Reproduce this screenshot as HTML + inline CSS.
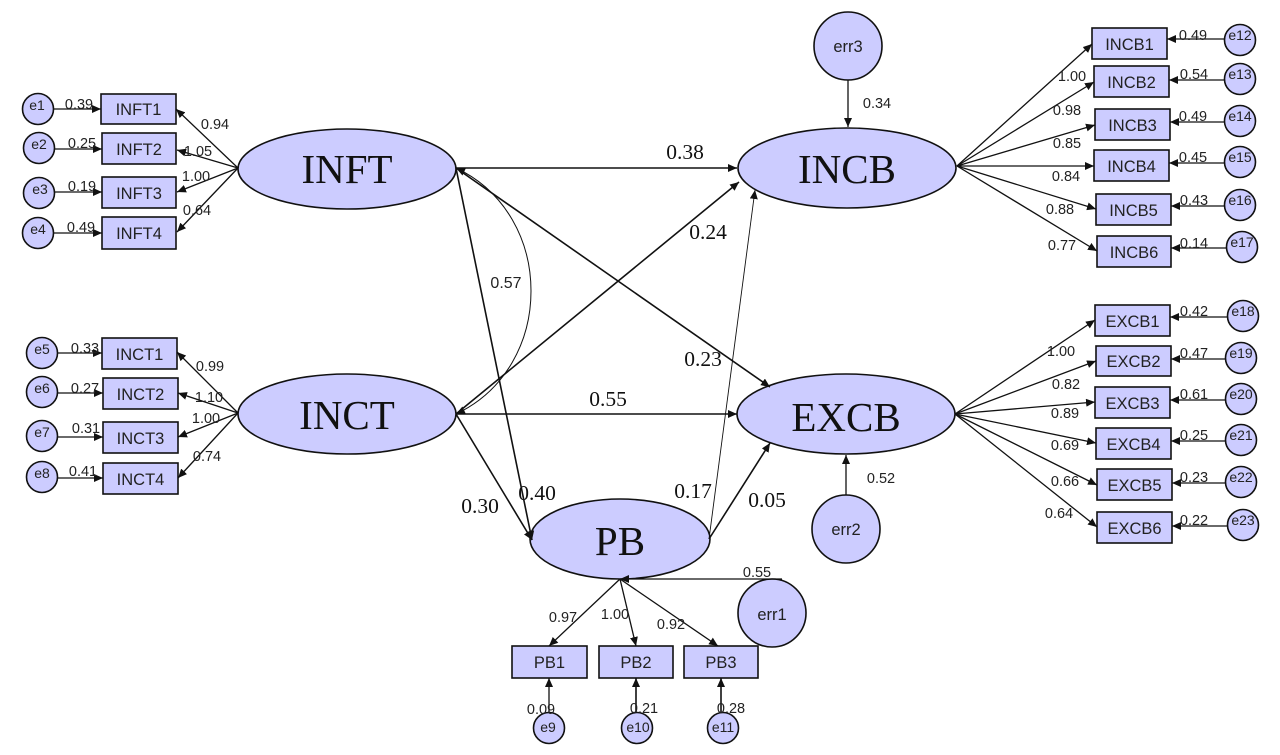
<!DOCTYPE html>
<html><head><meta charset="utf-8">
<style>
html,body{margin:0;padding:0;background:#fff}
svg{display:block}
.n{fill:#ccccff;stroke:#111;stroke-width:1.6}
.t{font:16.5px "Liberation Sans",sans-serif;fill:#222;text-anchor:middle}
.e{font:14px "Liberation Sans",sans-serif;fill:#222;text-anchor:middle}
.l{font:14.5px "Liberation Sans",sans-serif;fill:#222;text-anchor:middle}
.s{font:21.500px "Liberation Serif",serif;fill:#111;text-anchor:middle}
.b{font:41px "Liberation Serif",serif;fill:#111;text-anchor:middle}
.a line,.a path{stroke:#111;stroke-width:1.3;fill:none;marker-end:url(#m)}
.a .h{stroke-width:1.6}
.a .f{stroke-width:.9}
</style></head><body>
<svg width="1280" height="755" viewBox="0 0 1280 755" xmlns="http://www.w3.org/2000/svg">
<defs><marker id="m" markerUnits="userSpaceOnUse" markerWidth="10" markerHeight="8" refX="9" refY="4" orient="auto"><path d="M0 0L9 4L0 8z" fill="#111"/></marker>
<marker id="ms" markerUnits="userSpaceOnUse" markerWidth="10" markerHeight="8" refX="0" refY="4" orient="auto"><path d="M9 0L0 4L9 8z" fill="#111"/></marker></defs>

<g class="n">
<ellipse cx="347" cy="169" rx="109" ry="40"/><ellipse cx="347" cy="414" rx="109" ry="40"/>
<ellipse cx="847" cy="168" rx="109" ry="40"/><ellipse cx="846" cy="414" rx="109" ry="40"/>
<ellipse cx="620" cy="539" rx="90" ry="40"/>
<circle cx="848" cy="46" r="34"/><circle cx="846" cy="529" r="34"/><circle cx="772" cy="613" r="34"/>
<rect x="101" y="94" width="75" height="30"/><rect x="102" y="133" width="74" height="31"/><rect x="102" y="177" width="74" height="31"/><rect x="102" y="217" width="74" height="32"/>
<rect x="102" y="338" width="75" height="31"/><rect x="103" y="378" width="75" height="31"/><rect x="103" y="422" width="75" height="31"/><rect x="103" y="463" width="75" height="31"/>
<rect x="1092" y="28" width="75" height="31"/><rect x="1094" y="66" width="75" height="31"/><rect x="1095" y="109" width="75" height="31"/><rect x="1094" y="150" width="75" height="31"/><rect x="1096" y="194" width="75" height="31"/><rect x="1097" y="236" width="74" height="31"/>
<rect x="1095" y="305" width="75" height="31"/><rect x="1096" y="346" width="75" height="30"/><rect x="1095" y="387" width="75" height="31"/><rect x="1096" y="428" width="75" height="31"/><rect x="1097" y="469" width="75" height="31"/><rect x="1097" y="512" width="75" height="31"/>
<rect x="512" y="646" width="75" height="32"/><rect x="599" y="646" width="74" height="32"/><rect x="684" y="646" width="74" height="32"/>
<circle cx="38" cy="109" r="15.5"/><circle cx="39" cy="148" r="15.5"/><circle cx="39" cy="193" r="15.5"/><circle cx="38" cy="233" r="15.5"/>
<circle cx="42" cy="353" r="15.5"/><circle cx="42" cy="392" r="15.5"/><circle cx="42" cy="436" r="15.5"/><circle cx="42" cy="477" r="15.5"/>
<circle cx="549" cy="728" r="15.5"/><circle cx="637" cy="728" r="15.5"/><circle cx="723" cy="728" r="15.5"/>
<circle cx="1240" cy="40" r="15.5"/><circle cx="1240" cy="79" r="15.5"/><circle cx="1240" cy="121" r="15.5"/><circle cx="1240" cy="162" r="15.5"/><circle cx="1240" cy="205" r="15.5"/><circle cx="1242" cy="247" r="15.5"/>
<circle cx="1243" cy="316" r="15.5"/><circle cx="1241" cy="358" r="15.5"/><circle cx="1241" cy="399" r="15.5"/><circle cx="1241" cy="440" r="15.5"/><circle cx="1241" cy="482" r="15.5"/><circle cx="1243" cy="525" r="15.5"/>
</g>

<g class="a">
<line x1="238" y1="168" x2="176" y2="109"/><line x1="238" y1="168" x2="177" y2="150"/><line x1="238" y1="168" x2="177" y2="192"/><line x1="238" y1="168" x2="177" y2="232"/>
<line x1="238" y1="413" x2="177" y2="352"/><line x1="238" y1="413" x2="178" y2="393"/><line x1="238" y1="413" x2="178" y2="437"/><line x1="238" y1="413" x2="178" y2="478"/>
<line x1="54" y1="109" x2="101" y2="109"/><line x1="55" y1="149" x2="102" y2="149"/><line x1="55" y1="192" x2="102" y2="192"/><line x1="54" y1="233" x2="102" y2="233"/>
<line x1="58" y1="353" x2="102" y2="353"/><line x1="58" y1="393" x2="103" y2="393"/><line x1="58" y1="437" x2="103" y2="437"/><line x1="58" y1="478" x2="103" y2="478"/>
<line x1="957" y1="166" x2="1092" y2="44"/><line x1="957" y1="166" x2="1094" y2="82"/><line x1="957" y1="166" x2="1095" y2="125"/><line x1="957" y1="166" x2="1094" y2="166"/><line x1="957" y1="166" x2="1096" y2="209"/><line x1="957" y1="166" x2="1097" y2="251"/>
<line x1="955" y1="414" x2="1095" y2="320"/><line x1="955" y1="414" x2="1096" y2="361"/><line x1="955" y1="414" x2="1095" y2="402"/><line x1="955" y1="414" x2="1096" y2="443"/><line x1="955" y1="414" x2="1097" y2="485"/><line x1="955" y1="414" x2="1097" y2="527"/>
<line x1="1225" y1="39" x2="1167" y2="39"/><line x1="1225" y1="80" x2="1169" y2="80"/><line x1="1225" y1="122" x2="1170" y2="122"/><line x1="1225" y1="163" x2="1169" y2="163"/><line x1="1225" y1="206" x2="1171" y2="206"/><line x1="1227" y1="248" x2="1171" y2="248"/>
<line x1="1228" y1="317" x2="1170" y2="317"/><line x1="1226" y1="359" x2="1171" y2="359"/><line x1="1226" y1="400" x2="1170" y2="400"/><line x1="1226" y1="441" x2="1171" y2="441"/><line x1="1226" y1="483" x2="1172" y2="483"/><line x1="1228" y1="526" x2="1172" y2="526"/>
<line class="h" x1="456" y1="168" x2="737" y2="168"/><line class="h" x1="456" y1="168" x2="770" y2="387"/><line class="h" x1="456" y1="414" x2="739" y2="182"/><line class="h" x1="456" y1="414" x2="737" y2="414"/>
<line class="h" x1="456" y1="168" x2="532" y2="540"/><line class="h" x1="456" y1="414" x2="532" y2="540"/>
<line class="f" x1="709" y1="539" x2="755" y2="190"/><line class="h" x1="709" y1="539" x2="770" y2="443"/>
<line x1="848" y1="80" x2="848" y2="127"/><line x1="846" y1="495" x2="846" y2="455"/><line x1="782" y1="579" x2="620" y2="579"/>
<line x1="620" y1="579" x2="549" y2="646"/><line x1="620" y1="579" x2="636" y2="646"/><line x1="620" y1="579" x2="718" y2="646"/>
<line x1="549" y1="712" x2="549" y2="678"/><line class="h" x1="636" y1="712" x2="636" y2="678"/><line class="h" x1="721" y1="712" x2="721" y2="678"/>
<path d="M456 168C556 215 556 367 456 414" style="marker-start:url(#ms);stroke-width:1"/>
</g>

<g class="b">
<text x="347" y="183">INFT</text><text x="347" y="429">INCT</text><text x="847" y="183">INCB</text><text x="846" y="431">EXCB</text><text x="620" y="555">PB</text>
</g>
<g class="t">
<text x="138.500" y="115">INFT1</text><text x="139" y="155">INFT2</text><text x="139" y="199">INFT3</text><text x="139" y="239">INFT4</text>
<text x="139.500" y="360">INCT1</text><text x="140.500" y="400">INCT2</text><text x="140.500" y="444">INCT3</text><text x="140.500" y="485">INCT4</text>
<text x="1129.500" y="50">INCB1</text><text x="1131.500" y="88">INCB2</text><text x="1132.500" y="131">INCB3</text><text x="1131.500" y="172">INCB4</text><text x="1133.500" y="216">INCB5</text><text x="1134" y="258">INCB6</text>
<text x="1132.500" y="327">EXCB1</text><text x="1133.500" y="367">EXCB2</text><text x="1132.500" y="409">EXCB3</text><text x="1133.500" y="450">EXCB4</text><text x="1134.500" y="491">EXCB5</text><text x="1134.500" y="534">EXCB6</text>
<text x="549.500" y="668">PB1</text><text x="636" y="668">PB2</text><text x="721" y="668">PB3</text>
<text x="848" y="52">err3</text><text x="846" y="535">err2</text><text x="772" y="620">err1</text>
</g>
<g class="e">
<text x="37" y="110">e1</text><text x="39" y="149">e2</text><text x="40" y="194">e3</text><text x="38" y="234">e4</text>
<text x="42" y="354">e5</text><text x="42" y="393">e6</text><text x="42" y="437">e7</text><text x="42" y="478">e8</text>
<text x="548" y="732">e9</text><text x="638" y="732">e10</text><text x="723" y="732">e11</text>
<text x="1240" y="40">e12</text><text x="1240" y="79">e13</text><text x="1240" y="121">e14</text><text x="1240" y="162">e15</text><text x="1240" y="205">e16</text><text x="1242" y="247">e17</text>
<text x="1243" y="316">e18</text><text x="1241" y="358">e19</text><text x="1241" y="399">e20</text><text x="1241" y="440">e21</text><text x="1241" y="482">e22</text><text x="1243" y="525">e23</text>
</g>
<g class="l">
<text x="79" y="109">0.39</text><text x="82" y="148">0.25</text><text x="82" y="191">0.19</text><text x="81" y="232">0.49</text>
<text x="215" y="129">0.94</text><text x="198" y="156">1.05</text><text x="196" y="181">1.00</text><text x="197" y="215">0.64</text>
<text x="85" y="353">0.33</text><text x="85" y="393">0.27</text><text x="86" y="433">0.31</text><text x="83" y="476">0.41</text>
<text x="210" y="371">0.99</text><text x="209" y="402">1.10</text><text x="206" y="423">1.00</text><text x="207" y="461">0.74</text>
<text x="506" y="288" style="font-size:16px">0.57</text><text x="877" y="108">0.34</text><text x="881" y="483">0.52</text><text x="757" y="577">0.55</text>
<text x="563" y="622">0.97</text><text x="615" y="619">1.00</text><text x="671" y="629">0.92</text>
<text x="541" y="714">0.09</text><text x="644" y="713">0.21</text><text x="731" y="713">0.28</text>
<text x="1193" y="40">0.49</text><text x="1194" y="79">0.54</text><text x="1193" y="121">0.49</text><text x="1193" y="162">0.45</text><text x="1194" y="205">0.43</text><text x="1194" y="248">0.14</text>
<text x="1072" y="81">1.00</text><text x="1067" y="115">0.98</text><text x="1067" y="148">0.85</text><text x="1066" y="181">0.84</text><text x="1060" y="214">0.88</text><text x="1062" y="250">0.77</text>
<text x="1194" y="316">0.42</text><text x="1194" y="358">0.47</text><text x="1194" y="399">0.61</text><text x="1194" y="440">0.25</text><text x="1194" y="482">0.23</text><text x="1194" y="525">0.22</text>
<text x="1061" y="356">1.00</text><text x="1066" y="389">0.82</text><text x="1065" y="418">0.89</text><text x="1065" y="450">0.69</text><text x="1065" y="486">0.66</text><text x="1059" y="518">0.64</text>
</g>
<g class="s">
<text x="685" y="159">0.38</text><text x="708" y="239">0.24</text><text x="703" y="366">0.23</text><text x="608" y="406">0.55</text><text x="480" y="513">0.30</text><text x="537" y="500">0.40</text><text x="693" y="498">0.17</text><text x="767" y="507">0.05</text>
</g>
</svg>
</body></html>
